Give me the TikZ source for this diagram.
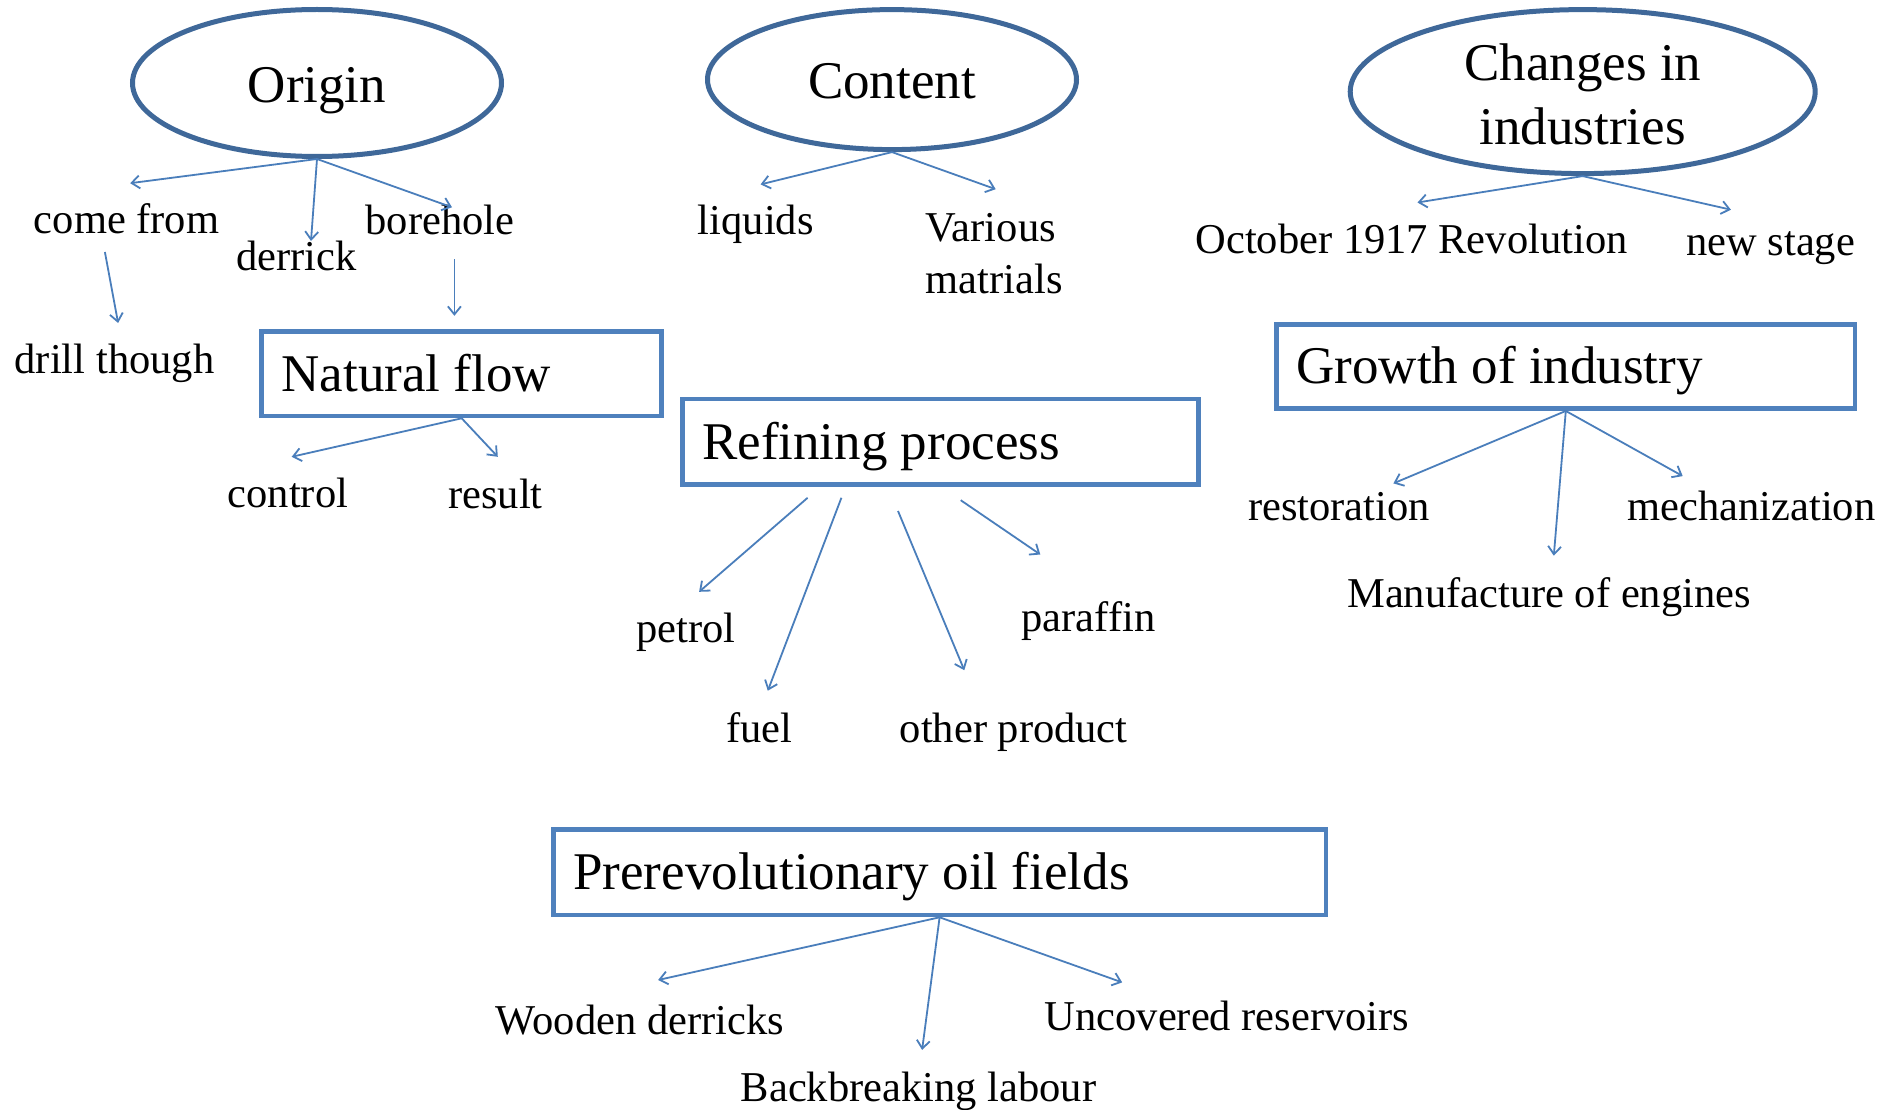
\documentclass[tikz,border=0pt]{standalone}
\usepackage{fontspec}
\setmainfont{Liberation Serif}
\usetikzlibrary{arrows.meta,shapes.geometric}
\definecolor{ellc}{HTML}{3F6899}
\definecolor{boxc}{HTML}{4F81BD}
\definecolor{arrc}{HTML}{4A7EBB}
\begin{document}
\begin{tikzpicture}[x=1pt,y=-1pt,
 big/.style={font=\fontsize{53}{64}\selectfont},
 lbl/.style={font=\fontsize{42.5}{52}\selectfont, inner sep=0pt, anchor=base, yshift=-2.4pt},
 oval/.style={ellipse, draw=ellc, line width=5pt, inner sep=0pt, big},
 box/.style={rectangle, draw=boxc, line width=4.8pt, big, align=flush left, inner xsep=20pt, inner ysep=0pt, text height=35pt, text depth=0pt},
 arr/.style={draw=arrc, line width=1.8pt, -{Straight Barb[length=8pt,width=13pt]}}]
\fill[white] (0,0) rectangle (1890,1110);
\useasboundingbox (0,0) rectangle (1890,1110);

% ellipses
\node[oval, minimum width=369pt, minimum height=147pt, text height=40pt, text depth=0pt] (origin) at (317,83) {Origin};
\node[oval, minimum width=369pt, minimum height=140pt, text height=38pt, text depth=0pt] (content) at (892,79.6) {Content};
\node[oval, minimum width=465pt, minimum height=164pt, align=center, text height=105pt, text depth=0pt] (changes) at (1582.7,91.6) {Changes in\\industries};

% boxes
\node[box, text width=360pt, minimum height=84.4pt] (nat) at (461.7,373.7) {Natural flow};
\node[box, text width=476pt, minimum height=85.6pt] (ref) at (940.2,441.8) {Refining process};
\node[box, text width=538.5pt, minimum height=84.3pt] (grow) at (1565.8,366.4) {Growth of industry};
\node[box, text width=732.7pt, minimum height=85.6pt] (prev) at (939.6,872.1) {Prerevolutionary oil fields};

% labels
\node[lbl] (comefrom) at (126.6,231.4) {come from};
\node[lbl] (derrick) at (296.5,267.6) {derrick};
\node[lbl] (borehole) at (440,232.6) {borehole};
\node[lbl] (drill) at (114.5,371.3) {drill though};
\node[lbl] (control) at (288,505) {control};
\node[lbl] (result) at (495.4,506.3) {result};
\node[lbl] (liquids) at (755.8,232.6) {liquids};
\node[lbl, anchor=west, align=left] (various) at (925.7,251) {Various\\matrials};
\node[lbl] (october) at (1411.5,250.7) {October 1917 Revolution};
\node[lbl] (newstage) at (1770.7,253) {new stage};
\node[lbl] (petrol) at (686,640) {petrol};
\node[lbl] (fuel) at (759.4,740) {fuel};
\node[lbl] (other) at (1013.7,740) {other product};
\node[lbl] (paraffin) at (1088.5,629) {paraffin};
\node[lbl] (restoration) at (1339,518) {restoration};
\node[lbl] (mechan) at (1751.4,518) {mechanization};
\node[lbl] (manuf) at (1549,605) {Manufacture of engines};
\node[lbl] (wooden) at (640,1031.8) {Wooden derricks};
\node[lbl] (backb) at (918.5,1099.3) {Backbreaking labour};
\node[lbl] (uncov) at (1227,1028.2) {Uncovered reservoirs};

% arrow end points
\coordinate (t-cf) at (130.2,183.2);
\coordinate (t-der) at (311,241);
\coordinate (t-bh) at (452,207.3);
\coordinate (s-dr) at (104.9,252);
\coordinate (t-dr) at (118.1,323);
\coordinate (s-nf) at (454.4,259);
\coordinate (t-nf) at (454.4,315.8);
\coordinate (t-ctl) at (291.7,456.8);
\coordinate (t-res) at (497.8,456.8);
\coordinate (t-liq) at (760.6,184.4);
\coordinate (t-var) at (995.7,189.2);
\coordinate (t-oct) at (1417.5,202.5);
\coordinate (t-new) at (1730.9,209.7);
\coordinate (s-pet) at (807.6,497.8);
\coordinate (t-pet) at (699.1,591.8);
\coordinate (s-fuel) at (841.4,497.8);
\coordinate (t-fuel) at (767.8,690.7);
\coordinate (s-oth) at (898,511);
\coordinate (t-oth) at (964.3,670.2);
\coordinate (s-par) at (960.7,500.2);
\coordinate (t-par) at (1040.3,554.5);
\coordinate (t-rest) at (1393.4,483.4);
\coordinate (t-man) at (1553.8,555.7);
\coordinate (t-mech) at (1682.7,476.1);
\coordinate (t-wood) at (658.1,980);
\coordinate (t-back) at (922.1,1049.9);
\coordinate (t-unc) at (1122.2,982.4);

% arrows
\draw[arr] (origin.south) -- (t-cf);
\draw[arr] (origin.south) -- (t-der);
\draw[arr] (origin.south) -- (t-bh);
\draw[arr] (s-dr) -- (t-dr);
\draw[arr] (s-nf) -- (t-nf);
\draw[arr] (nat.south) -- (t-ctl);
\draw[arr] (nat.south) -- (t-res);
\draw[arr] (content.south) -- (t-liq);
\draw[arr] (content.south) -- (t-var);
\draw[arr] (changes.south) -- (t-oct);
\draw[arr] (changes.south) -- (t-new);
\draw[arr] (s-pet) -- (t-pet);
\draw[arr] (s-fuel) -- (t-fuel);
\draw[arr] (s-oth) -- (t-oth);
\draw[arr] (s-par) -- (t-par);
\draw[arr] (grow.south) -- (t-rest);
\draw[arr] (grow.south) -- (t-man);
\draw[arr] (grow.south) -- (t-mech);
\draw[arr] (prev.south) -- (t-wood);
\draw[arr] (prev.south) -- (t-back);
\draw[arr] (prev.south) -- (t-unc);
\end{tikzpicture}
\end{document}
